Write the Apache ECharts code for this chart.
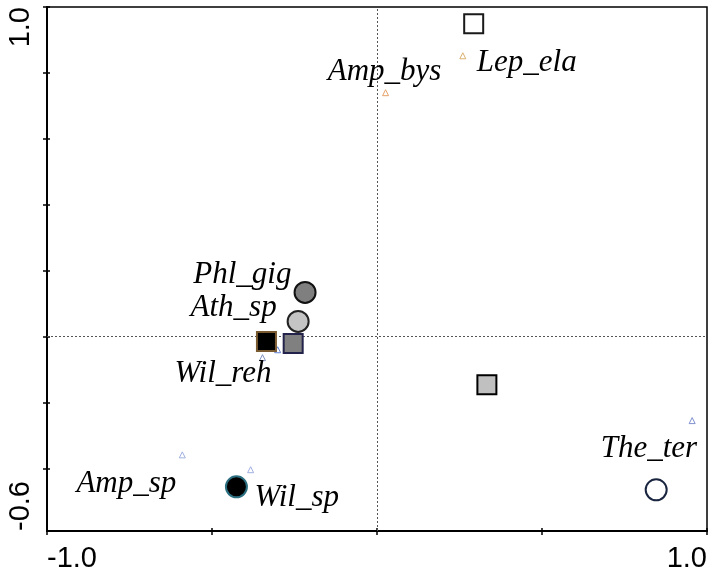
<!DOCTYPE html>
<html>
<head>
<meta charset="utf-8">
<script src="https://cdn.jsdelivr.net/npm/echarts@6/dist/echarts.min.js"></script>
<style>
html,body{margin:0;padding:0;background:#fff;}
#chart{width:708px;height:571px;}
</style>
</head>
<body>
<div id="chart"></div>
<script>
// ---- data ----
const xTickLabels = ['-1.0', '1.0'];
const yTickLabels = ['-0.6', '1.0'];
const yTickValues = [-0.4, -0.2, 0, 0.2, 0.4, 0.6, 0.8, 1.0];

const sampleX = [0.293, -0.218, -0.239, -0.335, -0.254, 0.333, -0.426, 0.846];
const sampleY = [0.949, 0.134, 0.046, -0.015, -0.021, -0.146, -0.456, -0.465];

const speciesNames = ['Amp_bys', 'Lep_ela', 'Phl_gig', 'Ath_sp', 'Wil_reh', 'Amp_sp', 'Wil_sp', 'The_ter'];
const speciesX = [0.026, 0.260, -0.217, -0.301, -0.347, -0.590, -0.383, 0.955];
const speciesY = [0.740, 0.852, 0.133, -0.040, -0.064, -0.359, -0.404, -0.255];

// ---- styles / layout ----
const sampleStyles = [
  { symbol: 'rect',   size: 19, fill: '#ffffff', border: '#1a1a1a' },
  { symbol: 'circle', size: 21, fill: '#7f7f7f', border: '#111111' },
  { symbol: 'circle', size: 21, fill: '#c4c4c4', border: '#222222' },
  { symbol: 'rect',   size: 19, fill: '#000000', border: '#7a5a30' },
  { symbol: 'rect',   size: 19, fill: '#808080', border: '#22224a' },
  { symbol: 'rect',   size: 19, fill: '#c0c0c0', border: '#000000' },
  { symbol: 'circle', size: 21, fill: '#000000', border: '#2b6f80' },
  { symbol: 'circle', size: 21, fill: '#ffffff', border: '#1a2540' }
];
const speciesStyles = [
  { color: '#e6a36a', align: 'center', offset: [-1, -21] },
  { color: '#d9b070', align: 'left',   offset: [14, 7] },
  { color: '#8090c0', align: 'right',  offset: [-14, -18] },
  { color: '#6080d0', align: 'right',  offset: [-1, -42] },
  { color: '#8090c0', align: 'right',  offset: [9, 16] },
  { color: '#a0b0e0', align: 'right',  offset: [-6, 29] },
  { color: '#a0b0e0', align: 'left',   offset: [4, 28] },
  { color: '#8090d0', align: 'right',  offset: [5, 28] }
];

const axisFont = { fontFamily: 'Liberation Sans', fontSize: 29, color: '#000' };

const chart = echarts.init(document.getElementById('chart'), null, { renderer: 'canvas' });

const option = {
  animation: false,
  backgroundColor: '#fff',
  grid: {
    left: 47, right: 1, top: 7, bottom: 40,
    show: true, borderColor: '#000', borderWidth: 1.5,
    containLabel: false, outerBoundsMode: 'none'
  },
  xAxis: [
    {
      type: 'value', min: -1, max: 1, interval: 0.5, position: 'bottom',
      axisLine: { onZero: false, lineStyle: { color: '#000', width: 2 } },
      axisTick: { show: true, inside: false, length: 4, lineStyle: { color: '#000', width: 1.5 } },
      splitLine: { show: false },
      axisLabel: Object.assign({
        customValues: [-1, 1],
        formatter: v => (v < 0 ? xTickLabels[0] : xTickLabels[1]),
        margin: 13, alignMinLabel: 'left', alignMaxLabel: 'right',
        showMinLabel: true, showMaxLabel: true, hideOverlap: false
      }, axisFont)
    },
    {
      type: 'value', min: -1, max: 1, interval: 0.5, position: 'bottom',
      axisLine: { show: false, onZero: false },
      axisTick: { show: true, inside: true, length: 3, lineStyle: { color: '#000', width: 1.5 } },
      splitLine: { show: false },
      axisLabel: { show: false }
    }
  ],
  yAxis: [
    {
      type: 'value', min: -0.59, max: 1.0, position: 'left',
      axisLine: { onZero: false, lineStyle: { color: '#000', width: 2 } },
      axisTick: { show: true, inside: false, length: 4, customValues: yTickValues, lineStyle: { color: '#000', width: 1.5 } },
      splitLine: { show: false },
      axisLabel: Object.assign({
        customValues: [-0.59, 1.0],
        formatter: v => (v < 0 ? yTickLabels[0] : yTickLabels[1]),
        rotate: 90, margin: 12, alignMinLabel: 'left', alignMaxLabel: 'right',
        showMinLabel: true, showMaxLabel: true, hideOverlap: false
      }, axisFont)
    },
    {
      type: 'value', min: -0.59, max: 1.0, position: 'left',
      axisLine: { show: false, onZero: false },
      axisTick: { show: true, inside: true, length: 3, customValues: yTickValues, lineStyle: { color: '#000', width: 1.5 } },
      splitLine: { show: false },
      axisLabel: { show: false }
    }
  ],
  series: [
    {
      type: 'scatter', name: 'species', z: 2,
      symbol: 'triangle', symbolSize: 6,
      itemStyle: { color: '#fff', borderWidth: 1, opacity: 1 },
      label: {
        show: true, position: 'inside', formatter: '{b}',
        fontFamily: 'Liberation Serif', fontStyle: 'italic', fontSize: 31,
        color: '#000', opacity: 1, verticalAlign: 'middle'
      },
      data: speciesNames.map((n, i) => ({
        name: n,
        value: [speciesX[i], speciesY[i]],
        itemStyle: { borderColor: speciesStyles[i].color },
        label: { align: speciesStyles[i].align, offset: speciesStyles[i].offset }
      })),
      markLine: {
        silent: true, symbol: 'none', label: { show: false }, z: 1,
        lineStyle: { color: '#555', width: 1, type: [2, 2], opacity: 1 },
        data: [{ xAxis: 0 }, { yAxis: 0 }]
      }
    },
    {
      type: 'scatter', name: 'samples', z: 3,
      data: sampleX.map((x, i) => ({
        value: [x, sampleY[i]],
        symbol: sampleStyles[i].symbol,
        symbolSize: sampleStyles[i].size,
        itemStyle: { color: sampleStyles[i].fill, borderColor: sampleStyles[i].border, borderWidth: 2, opacity: 1 }
      }))
    }
  ]
};
chart.setOption(option);
</script>
</body>
</html>
